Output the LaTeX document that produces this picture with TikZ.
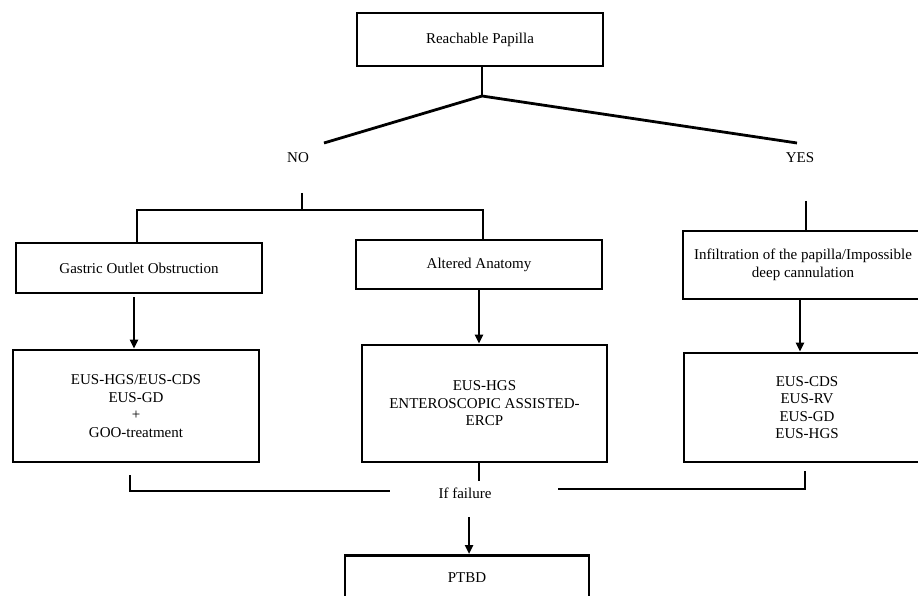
\documentclass[tikz,border=0pt]{standalone}
\usepackage{fontspec}
\setmainfont{Liberation Serif}
\usetikzlibrary{arrows.meta}
\begin{document}
\begin{tikzpicture}[x=1pt,y=-1pt,
  every node/.style={font=\fontsize{15}{17.5}\selectfont},
  box/.style={draw,line width=2.8pt,align=center,inner sep=2pt},
  ln/.style={line width=2.8pt},
  arr/.style={line width=2.5pt,-{Triangle[length=9pt,width=8pt]}},
  lbl/.style={inner sep=1pt}]
\clip (0,0) rectangle (918,596);
\fill[white] (0,0) rectangle (918,596);
% boxes
\node[box,minimum width=246,minimum height=53] (top) at (480,39.5) {Reachable Papilla};
\node[box,minimum width=246,minimum height=50] (gastric) at (139,268) {Gastric Outlet Obstruction};
\node[box,minimum width=246,minimum height=49] (altered) at (479,264.5) {Altered Anatomy};
\node[box,minimum width=240,minimum height=68] (infil) at (803,265) {Infiltration of the papilla/Impossible\\deep cannulation};
\node[box,minimum width=246,minimum height=112] (l1) at (136,406) {EUS-HGS/EUS-CDS\\EUS-GD\\+\\GOO-treatment};
\node[box,minimum width=245,minimum height=117] (l2) at (484.5,403.5) {EUS-HGS\\ENTEROSCOPIC ASSISTED-\\ERCP};
\node[box,minimum width=246,minimum height=109] (l3) at (807,407.5) {EUS-CDS\\EUS-RV\\EUS-GD\\EUS-HGS};
\node[box,minimum width=244,minimum height=60,anchor=north] (ptbd) at (467,554) {};
\node (ptbdt) at (467,578) {PTBD};
% labels
\node[lbl] (no) at (298,158) {NO};
\node[lbl] (yes) at (800,158) {YES};
\node[lbl] (fail) at (465,493) {If failure};
% coordinates
\coordinate (v1) at (482,96);
\coordinate (nl) at (324,143);
\coordinate (yr) at (797,143);
\coordinate (nos) at (302,193);
\coordinate (noj) at (302,210);
\coordinate (yess) at (806,201);
\coordinate (lb1) at (130,475);
\coordinate (lb2) at (390,491);
\coordinate (rb1) at (805,471);
\coordinate (rb2) at (558,489);
\coordinate (mid) at (479,481);
\coordinate (fa) at (469,517);
\coordinate (ga) at (134,297);
\coordinate (aa) at (479,290);
\coordinate (ia) at (800,300);
% connectors
\draw[ln] (v1 |- top.south) -- (v1);
\draw[ln] (nl) -- (v1) -- (yr);
\draw[ln] (nos) -- (noj);
\draw[ln] (gastric.north -| 137,0) |- (noj) -| (altered.north -| 483,0);
\draw[ln] (yess) -- (yess |- infil.north);
\draw[arr] (ga) -- (ga |- l1.north);
\draw[arr] (aa) -- (aa |- l2.north);
\draw[arr] (ia) -- (ia |- l3.north);
\draw[ln] (mid |- l2.south) -- (mid);
\draw[ln] (lb1) |- (lb2);
\draw[ln] (rb1) |- (rb2);
\draw[arr] (fa) -- (fa |- ptbd.north);
\end{tikzpicture}
\end{document}
